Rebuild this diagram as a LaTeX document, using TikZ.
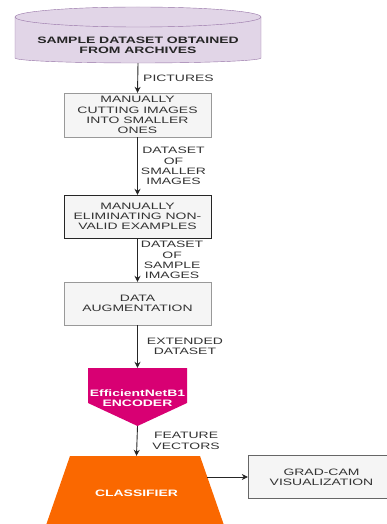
\documentclass[tikz,border=0pt]{standalone}
\usepackage{fontspec}
\setmainfont{Liberation Sans}[FakeStretch=1.5]
\usetikzlibrary{arrows.meta}
\definecolor{cylfill}{HTML}{E1D5E7}
\definecolor{cylline}{HTML}{9673A6}
\definecolor{boxfill}{HTML}{F5F5F5}
\definecolor{boxtext}{HTML}{333333}
\definecolor{encfill}{HTML}{D80073}
\definecolor{clffill}{HTML}{FA6800}
\begin{document}
\begin{tikzpicture}[x=1pt,y=-1pt,
  txt/.style={font=\fontsize{9.3}{10.3}\selectfont, align=center},
  box/.style={txt, draw=black!60, fill=boxfill, text=boxtext, minimum width=147pt, minimum height=43pt, inner sep=0pt},
  lbl/.style={txt, right, text=boxtext, inner sep=3pt},
  flow/.style={-{Stealth[length=6pt,width=6pt]}, line width=0.9pt, draw=black!85}]
  \useasboundingbox (0,0) rectangle (387,524);
  \clip (0,0) rectangle (387,524);
  % archive (cylinder)
  \fill[cylfill] (15,17) -- (15,58) arc[start angle=180,end angle=360,x radius=123pt,y radius=5pt]
    -- (261,17) arc[start angle=0,end angle=180,x radius=123pt,y radius=10pt] -- cycle;
  \draw[cylline] (15,17) -- (15,58) arc[start angle=180,end angle=360,x radius=123pt,y radius=5pt] -- (261,17);
  \draw[cylline] (138,17) ellipse [x radius=123pt, y radius=10pt];
  \node[txt, font=\fontsize{9.3}{10.3}\selectfont\bfseries, text=black!85, minimum height=36pt] (archive) at (138,45) {SAMPLE DATASET OBTAINED\\FROM ARCHIVES};
  % processing steps
  \node[box, draw=black!40, minimum height=44pt] (cut) at (137.5,115) {MANUALLY\\CUTTING IMAGES\\INTO SMALLER\\ONES};
  \node[box, draw=black!85] (elim) at (137.5,216.5) {MANUALLY\\ELIMINATING NON-\\VALID EXAMPLES};
  \node[box, draw=black!40] (augm) at (137.5,303.5) {DATA\\AUGMENTATION};
  % encoder
  \fill[encfill] (88,368) -- (187,368) -- (187,403) -- (137.5,426) -- (88,403) -- cycle;
  \node[txt, font=\fontsize{9.3}{10.3}\selectfont\bfseries, text=white, minimum height=60pt] (enc) at (137.5,398) {EfficientNetB1\\ENCODER};
  \coordinate (encTip) at (137.5,426);
  % classifier
  \fill[clffill] (70,456) -- (200,456) -- (226,531) -- (44,531) -- cycle;
  \node[txt, font=\fontsize{9.3}{10.3}\selectfont\bfseries, text=white, minimum height=74pt] (clf) at (136.5,493) {CLASSIFIER};
  \coordinate (clfR) at (207,477);
  \node[box] (gcam) at (321.5,477) {GRAD-CAM\\VISUALIZATION};
  % connectors
  \draw[flow] (archive.south) -- node[lbl, xshift=2pt] {PICTURES} (cut.north);
  \draw[flow] (cut.south) -- node[lbl] {DATASET\\OF\\SMALLER\\IMAGES} (elim.north);
  \draw[flow] (elim.south) -- node[lbl] {DATASET\\OF\\SAMPLE\\IMAGES} (augm.north);
  \draw[flow] (augm.south) -- node[lbl, xshift=6pt] {EXTENDED\\DATASET} (enc.north);
  \draw[flow] (encTip) -- node[lbl, xshift=12pt] {FEATURE\\VECTORS} (clf.north);
  \draw[flow, line width=0.6pt] (clfR) -- (gcam.west);
\end{tikzpicture}
\end{document}
